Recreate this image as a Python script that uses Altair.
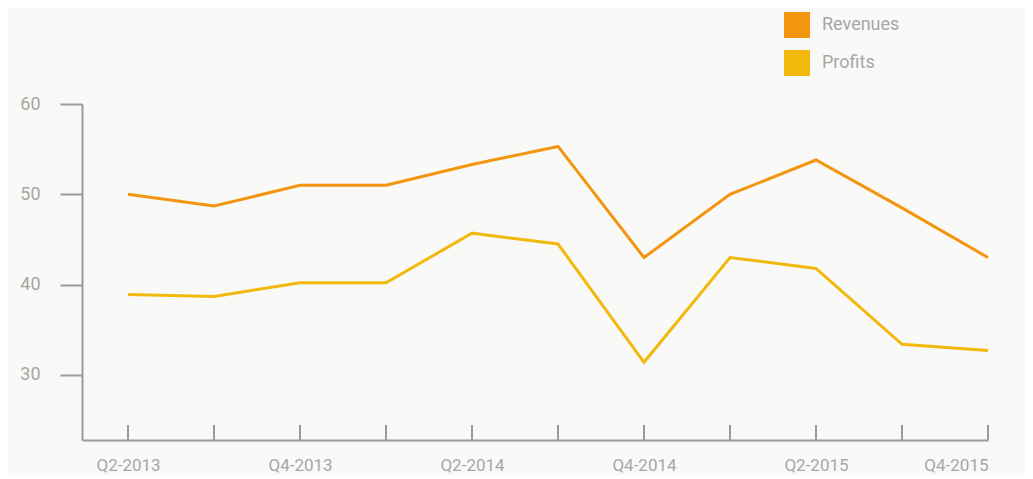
import altair as alt
import pandas as pd

quarters = ["Q2-2013", "Q3-2013", "Q4-2013", "Q1-2014", "Q2-2014", "Q3-2014",
            "Q4-2014", "Q1-2015", "Q2-2015", "Q3-2015", "Q4-2015"]
revenues = [50.0, 48.7, 51.0, 51.0, 53.3, 55.3, 43.0, 50.0, 53.8, 48.5, 43.0]
profits = [38.9, 38.7, 40.2, 40.2, 45.7, 44.5, 31.4, 43.0, 41.8, 33.4, 32.7]
series_names = ["Revenues", "Profits"]
series_colors = ["#F3950F", "#F2B90C"]
y_ticks = [30, 40, 50, 60]
x_label_idx = [0, 2, 4, 6, 8, 10]

rows = []
for i, q in enumerate(quarters):
    rows.append({"idx": i, "quarter": q, "series": "Revenues", "value": revenues[i]})
    rows.append({"idx": i, "quarter": q, "series": "Profits", "value": profits[i]})
df = pd.DataFrame(rows)
ticks_df = pd.DataFrame({"idx": list(range(len(quarters))), "quarter": quarters})

W, H = 906, 336
AXIS_GRAY = "#9a9a9a"
LABEL_GRAY = "#a6a6a6"
AXIS_FONT = "Roboto, sans-serif"

label_expr = "[" + ",".join("'" + q + "'" for q in quarters) + "][datum.value]"

x_scale = alt.Scale(domain=[-0.535, 10], nice=False, zero=False)
y_scale = alt.Scale(domain=[22.8, 60], nice=False, zero=False)

x_axis = alt.Axis(values=x_label_idx, labelExpr=label_expr, ticks=False, grid=False,
                  title=None, domainColor=AXIS_GRAY, domainWidth=2,
                  labelColor=LABEL_GRAY, labelFont=AXIS_FONT, labelFontSize=17,
                  labelPadding=17)
y_axis = alt.Axis(values=y_ticks, grid=False, title=None, domainColor=AXIS_GRAY,
                  domainWidth=2, tickColor=AXIS_GRAY, tickWidth=2, tickSize=22,
                  labelColor=LABEL_GRAY, labelFont=AXIS_FONT, labelFontSize=18,
                  labelPadding=20)

legend = alt.Legend(title=None, orient="none", legendX=702, legendY=-92,
                    symbolType="square", symbolSize=169, symbolStrokeWidth=13,
                    clipHeight=26,
                    labelFont="Roboto", labelFontSize=18,
                    labelColor=LABEL_GRAY, labelOffset=12,
                    rowPadding=12, padding=0)

lines = alt.Chart(df).mark_line(strokeWidth=3, strokeJoin="miter").encode(
    x=alt.X("idx:Q", scale=x_scale, axis=x_axis),
    y=alt.Y("value:Q", scale=y_scale, axis=y_axis),
    color=alt.Color("series:N", scale=alt.Scale(domain=series_names, range=series_colors),
                    legend=legend),
)

tick_rules = alt.Chart(ticks_df).mark_rule(color=AXIS_GRAY, strokeWidth=2).encode(
    x=alt.X("idx:Q", scale=x_scale),
    y=alt.value(H - 15),
    y2=alt.value(H),
)

chart = alt.layer(tick_rules, lines).properties(
    width=W, height=H,
    autosize=alt.AutoSizeParams(type="none"),
    padding={"left": 74, "top": 96, "right": 37, "bottom": 35},
    background="#f9f9f8",
).configure_view(stroke=None)

chart.save("out.html", embed_options={"renderer": "svg", "actions": False})
